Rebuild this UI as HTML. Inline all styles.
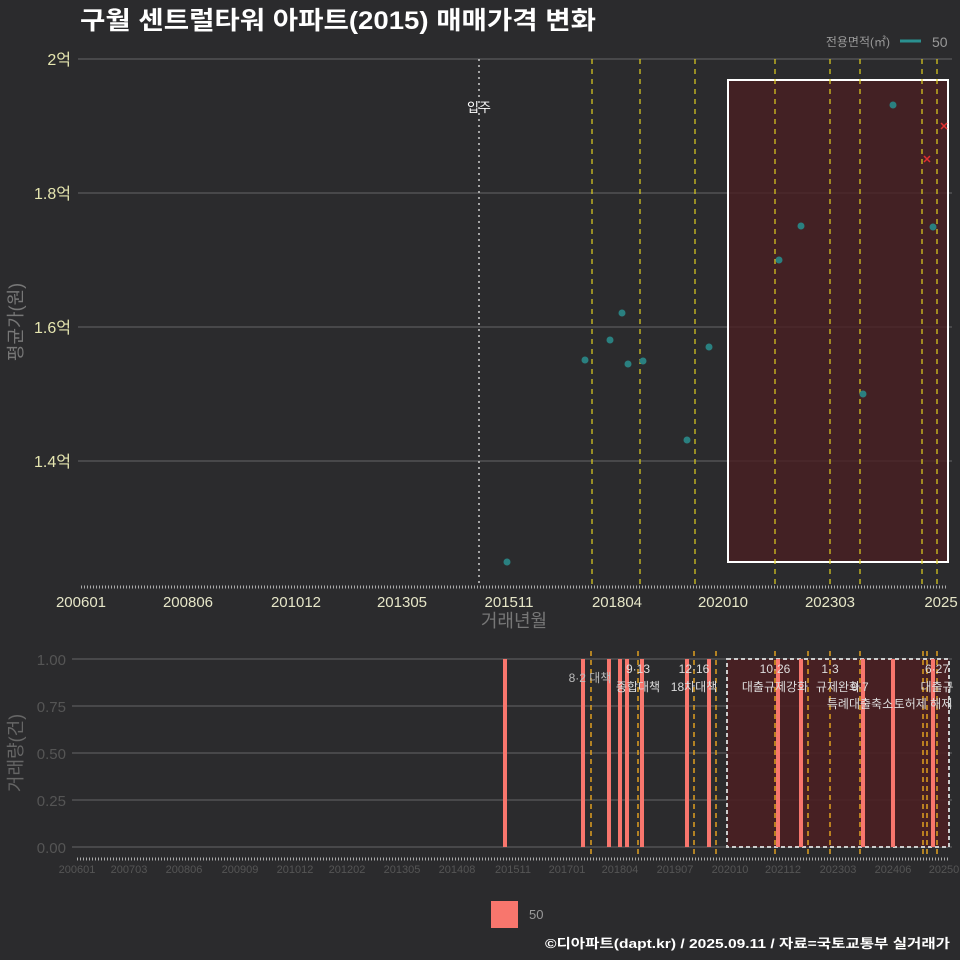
<!DOCTYPE html>
<html><head><meta charset="utf-8"><style>
html,body{margin:0;padding:0;background:#2b2b2d;}
svg{display:block;font-family:"Liberation Sans","Noto Sans CJK KR",sans-serif;}
</style></head><body>
<svg width="960" height="960" viewBox="0 0 960 960">
<rect width="960" height="960" fill="#2b2b2d"/>
<text x="80" y="29" font-size="25" font-weight="bold" fill="#fff" textLength="516" lengthAdjust="spacingAndGlyphs">구월 센트럴타워 아파트(2015) 매매가격 변화</text>
<text x="890" y="46" font-size="12" fill="#999" text-anchor="end">전용면적(㎡)</text>
<line x1="900" y1="41" x2="921" y2="41" stroke="#2a9090" stroke-width="3"/>
<text x="932" y="47" font-size="14" fill="#999">50</text>

<g stroke="#666" stroke-width="1">
<line x1="78" y1="59" x2="952" y2="59"/><line x1="78" y1="193" x2="952" y2="193"/>
<line x1="78" y1="327" x2="952" y2="327"/><line x1="78" y1="461" x2="952" y2="461"/>
</g>
<g font-size="16" fill="#e6e6b0" text-anchor="end">
<text x="71" y="65">2억</text><text x="71" y="199">1.8억</text><text x="71" y="333">1.6억</text><text x="71" y="467">1.4억</text>
</g>
<text transform="translate(22,322) rotate(-90)" font-size="18" fill="#777" text-anchor="middle">평균가(원)</text>
<rect x="728" y="80" width="220" height="482" fill="#4a1f22" fill-opacity="0.8" stroke="#fff" stroke-width="2"/>
<line x1="479" y1="59" x2="479" y2="587" stroke="#ccc" stroke-dasharray="2,4" stroke-width="1.5"/>
<text x="479" y="112" font-size="13" fill="#fff" text-anchor="middle">입주</text>
<g stroke="#e0d020" stroke-dasharray="5,5" stroke-width="1.2">
<line x1="592" y1="59" x2="592" y2="587"/><line x1="640" y1="59" x2="640" y2="587"/>
<line x1="695" y1="59" x2="695" y2="587"/><line x1="775" y1="59" x2="775" y2="587"/>
<line x1="830" y1="59" x2="830" y2="587"/><line x1="860" y1="59" x2="860" y2="587"/>
<line x1="922" y1="59" x2="922" y2="587"/><line x1="937" y1="59" x2="937" y2="587"/>
</g>
<g fill="#2a8080">
<circle cx="507" cy="562" r="3.5"/><circle cx="585" cy="360" r="3.5"/><circle cx="610" cy="340" r="3.5"/>
<circle cx="622" cy="313" r="3.5"/><circle cx="628" cy="364" r="3.5"/><circle cx="643" cy="361" r="3.5"/>
<circle cx="687" cy="440" r="3.5"/><circle cx="709" cy="347" r="3.5"/><circle cx="779" cy="260" r="3.5"/>
<circle cx="801" cy="226" r="3.5"/><circle cx="863" cy="394" r="3.5"/><circle cx="893" cy="105" r="3.5"/>
<circle cx="933" cy="227" r="3.5"/>
</g>
<g stroke="#e03030" stroke-width="1.5">
<path d="M924 156 L930 162 M930 156 L924 162"/>
<path d="M941 123 L947 129 M947 123 L941 129"/>
</g>
<line x1="81" y1="587" x2="948" y2="587" stroke="#aaa" stroke-width="3" stroke-dasharray="1,2"/>
<g font-size="15" fill="#e6e6c8" text-anchor="middle">
<text x="81" y="607">200601</text><text x="188" y="607">200806</text><text x="296" y="607">201012</text>
<text x="402" y="607">201305</text><text x="509" y="607">201511</text><text x="617" y="607">201804</text>
<text x="723" y="607">202010</text><text x="830" y="607">202303</text><text x="941" y="607">2025</text>
</g>
<text x="514" y="627" font-size="18" fill="#777" text-anchor="middle">거래년월</text>

<g stroke="#666" stroke-width="1">
<line x1="72" y1="659" x2="952" y2="659"/><line x1="72" y1="706" x2="952" y2="706"/>
<line x1="72" y1="753" x2="952" y2="753"/><line x1="72" y1="800" x2="952" y2="800"/>
<line x1="72" y1="847" x2="952" y2="847"/>
</g>
<g font-size="15" fill="#555" text-anchor="end">
<text x="66" y="665">1.00</text><text x="66" y="712">0.75</text><text x="66" y="759">0.50</text>
<text x="66" y="806">0.25</text><text x="66" y="853">0.00</text>
</g>
<text transform="translate(22,753) rotate(-90)" font-size="18" fill="#666" text-anchor="middle">거래량(건)</text>
<rect x="727" y="659" width="222" height="188" fill="#4a1f22" fill-opacity="0.9" stroke="#ccc" stroke-width="2" stroke-dasharray="4,3"/>
<g fill="#f8766d">
<rect x="503" y="659" width="4" height="188"/><rect x="581" y="659" width="4" height="188"/>
<rect x="607" y="659" width="4" height="188"/><rect x="618" y="659" width="4" height="188"/>
<rect x="625" y="659" width="4" height="188"/><rect x="640" y="659" width="4" height="188"/>
<rect x="685" y="659" width="4" height="188"/><rect x="707" y="659" width="4" height="188"/>
<rect x="776" y="659" width="4" height="188"/><rect x="799" y="659" width="4" height="188"/>
<rect x="861" y="659" width="4" height="188"/><rect x="891" y="659" width="4" height="188"/>
<rect x="931" y="659" width="4" height="188"/>
</g>
<g stroke="#e0a020" stroke-dasharray="5,4" stroke-width="1.5">
<line x1="591" y1="651" x2="591" y2="855"/><line x1="638" y1="651" x2="638" y2="855"/>
<line x1="694" y1="651" x2="694" y2="855"/><line x1="716" y1="651" x2="716" y2="855"/>
<line x1="775" y1="651" x2="775" y2="855"/><line x1="808" y1="651" x2="808" y2="855"/>
<line x1="830" y1="651" x2="830" y2="855"/><line x1="860" y1="651" x2="860" y2="855"/>
<line x1="923" y1="651" x2="923" y2="855"/><line x1="927" y1="651" x2="927" y2="855"/>
<line x1="937" y1="651" x2="937" y2="855"/>
</g>
<g font-size="12" fill="#ddd" text-anchor="middle">
<text x="590" y="682" fill="#bbb">8·2 대책</text>
<text x="638" y="673">9·13</text><text x="638" y="691">종합대책</text>
<text x="694" y="673">12·16</text><text x="694" y="691">18차대책</text>
<text x="775" y="673">10·26</text><text x="775" y="691">대출규제강화</text>
<text x="830" y="673">1·3</text><text x="838" y="691">규제완화</text><text x="860" y="691">9·7</text>
<text x="860" y="708">특례대출축소</text><text x="923" y="708">토허제 해제</text>
<text x="937" y="673">6·27</text><text x="937" y="691">대출규</text>
</g>
<line x1="77" y1="859" x2="948" y2="859" stroke="#aaa" stroke-width="3" stroke-dasharray="1,2"/>
<g font-size="11" fill="#555" text-anchor="middle">
<text x="77" y="873">200601</text><text x="129" y="873">200703</text><text x="184" y="873">200806</text>
<text x="240" y="873">200909</text><text x="295" y="873">201012</text><text x="347" y="873">201202</text>
<text x="402" y="873">201305</text><text x="457" y="873">201408</text><text x="513" y="873">201511</text>
<text x="567" y="873">201701</text><text x="620" y="873">201804</text><text x="675" y="873">201907</text>
<text x="730" y="873">202010</text><text x="783" y="873">202112</text><text x="838" y="873">202303</text>
<text x="893" y="873">202406</text><text x="944" y="873">20250</text>
</g>
<rect x="491" y="901" width="27" height="27" fill="#f8766d"/>
<text x="529" y="919" font-size="13" fill="#999">50</text>
<text x="545" y="948" font-size="13" font-weight="bold" fill="#fff" textLength="405" lengthAdjust="spacingAndGlyphs">©디아파트(dapt.kr) / 2025.09.11 / 자료=국토교통부 실거래가</text>
</svg>
</body></html>
